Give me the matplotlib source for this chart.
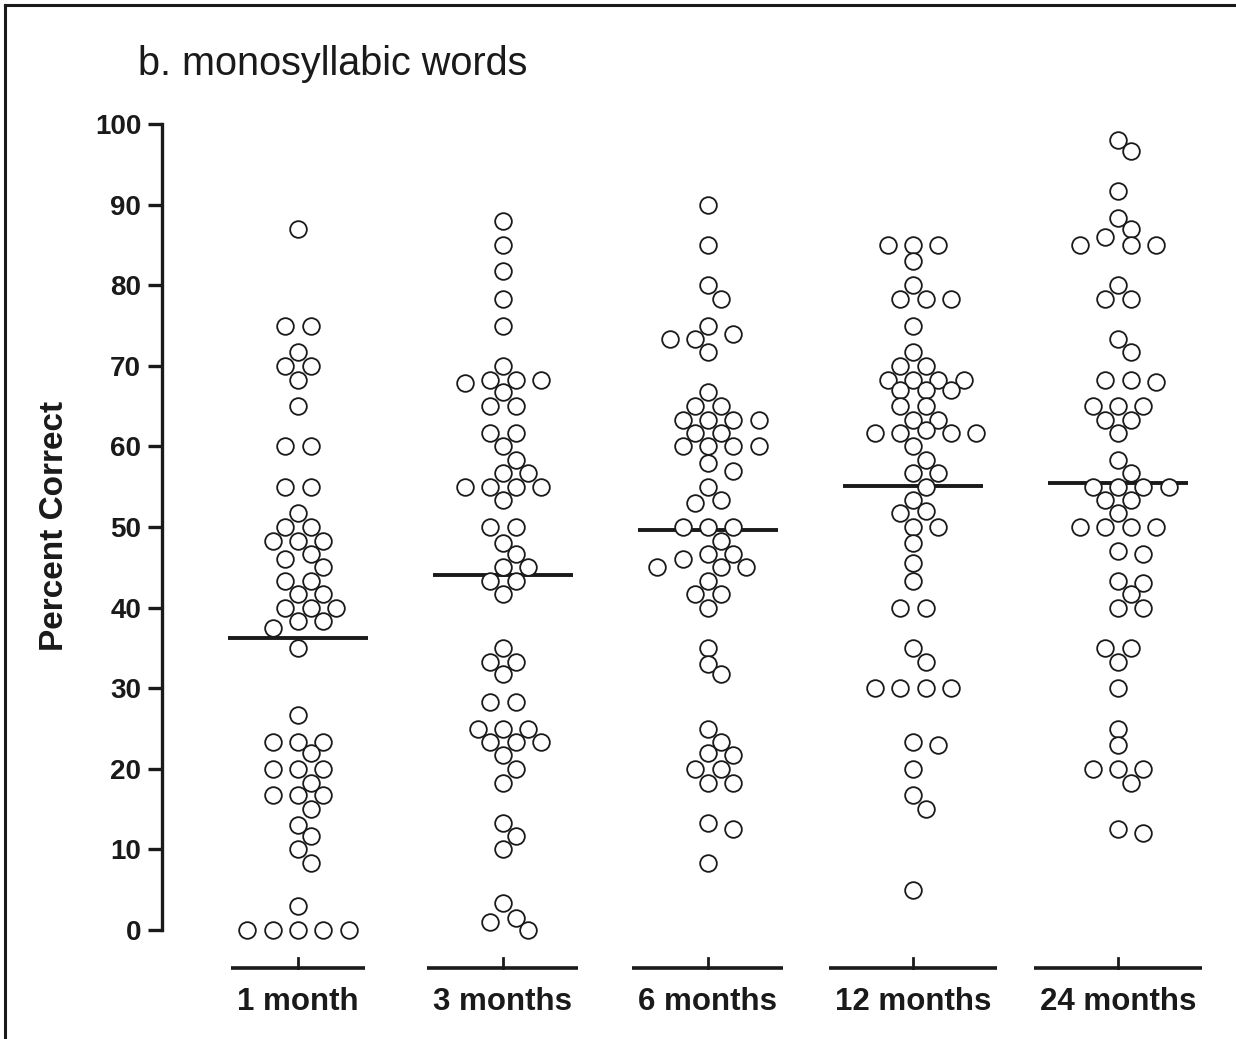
import matplotlib
matplotlib.use("Agg")
import matplotlib.pyplot as plt
from matplotlib.lines import Line2D
import numpy as np

groups = ["1 month", "3 months", "6 months", "12 months", "24 months"]

month_1 = [87, 75, 75, 71.7, 70, 70, 68.3, 65, 60, 60, 55, 55, 51.7, 50, 50,
           48.3, 48.3, 48.3, 46.7, 46, 45, 43.3, 43.3, 41.7, 41.7, 40, 40, 40,
           38.3, 38.3, 37.5, 35, 26.7, 23.3, 23.3, 23.3, 22, 20, 20, 20, 18.3,
           16.7, 16.7, 16.7, 15, 13, 11.7, 10, 8.3, 3, 0, 0, 0, 0, 0]
month_3 = [88, 85, 81.7, 78.3, 75, 70, 68.3, 68.3, 68.3, 67.9, 66.7, 65, 65,
           61.7, 61.7, 60, 58.3, 56.7, 56.7, 55, 55, 55, 55, 53.3, 50, 50, 48,
           46.7, 45, 45, 43.3, 43.3, 41.7, 35, 33.3, 33.3, 31.7, 28.3, 28.3, 25,
           25, 25, 23.3, 23.3, 23.3, 21.7, 20, 18.3, 13.3, 11.7, 10, 3.3, 1.5,
           1, 0]
month_6 = [90, 85, 80, 78.3, 75, 74, 73.3, 73.3, 71.7, 66.7, 65, 65, 63.3,
           63.3, 63.3, 63.3, 61.7, 61.7, 60, 60, 60, 60, 58, 57, 55, 53.3, 53,
           50, 50, 50, 48.3, 46.7, 46.7, 46, 45, 45, 45, 43.3, 41.7, 41.7, 40,
           35, 33, 31.7, 25, 23.3, 22, 21.7, 20, 20, 18.3, 18.3, 13.3, 12.5, 8.3]
month_12 = [85, 85, 85, 83, 80, 78.3, 78.3, 78.3, 75, 71.7, 70, 70, 68.3, 68.3,
            68.3, 68.3, 67, 67, 67, 65, 65, 63.3, 63.3, 62, 61.7, 61.7, 61.7,
            61.7, 60, 58.3, 56.7, 56.7, 55, 53.3, 52, 51.7, 50, 50, 48, 45.5,
            43.3, 40, 40, 35, 33.3, 30, 30, 30, 30, 23.3, 23, 20, 16.7, 15, 5]
month_24 = [98, 96.7, 91.7, 88.3, 87, 86, 85, 85, 85, 80, 78.3, 78.3, 73.3,
            71.7, 68.3, 68.3, 68, 65, 65, 65, 63.3, 63.3, 61.7, 58.3, 56.7, 55,
            55, 55, 55, 53.3, 53.3, 51.7, 50, 50, 50, 50, 47, 46.7, 43.3, 43,
            41.7, 40, 40, 35, 35, 33.3, 30, 25, 23, 20, 20, 20, 18.3, 12.5, 12]

series = [month_1, month_3, month_6, month_12, month_24]
yticks = list(range(0, 101, 10))

plt.rcParams["font.family"] = ["Liberation Sans", "DejaVu Sans"]

W, H = 1236, 1039
fig = plt.figure(figsize=(W / 100, H / 100), dpi=100)
ax = fig.add_axes([162 / W, 1 - 930 / H, 1 - 162 / W, (930 - 124) / H])
ax.set_ylim(0, 100)
ax.set_xlim(-0.663, 4.576)

# pixels per data unit
px_y = ax.bbox.height / 100
px_x = ax.bbox.width / (4.576 + 0.663)


def swarm(values, diam=15.5, step=12.7):
    """Column-scatter layout on a half-column grid.  Rows of equal values are
    spread symmetrically when they fit near the centre, otherwise each point
    takes the nearest free grid slot."""
    vals = sorted(values, reverse=True)
    rows = []
    for v in vals:
        if rows and abs(rows[-1][0] - v) < 1e-9:
            rows[-1].append(v)
        else:
            rows.append([v])
    placed = []

    def free(x, y):
        return all(np.hypot(x - px, y - py) >= diam for px, py in placed)

    slots = [0] + [s * k for k in range(1, 40) for s in (1, -1)]
    for row in rows:
        n = len(row)
        y = row[0] * px_y
        base = [(i - (n - 1) / 2) * 2 * step for i in range(n)]
        done = False
        for c in (0, 1, -1):
            xs = [c * step + b for b in base]
            if all(free(x, y) for x in xs):
                placed.extend((x, y) for x in xs)
                done = True
                break
        if done:
            continue
        for _ in range(n):
            for k in slots:
                if free(k * step, y):
                    placed.append((k * step, y))
                    break
    offs = np.array([p[0] for p in placed]) / px_x
    ys = np.array([p[1] for p in placed]) / px_y
    return offs, ys


for i, vals in enumerate(series):
    offs, ys = swarm(vals)
    ax.scatter(i + offs, ys, s=12 ** 2, facecolor="white", edgecolor="#1a1a1a",
               linewidth=1.3, zorder=3, clip_on=False)
    m = np.mean(vals)
    ax.plot([i - 0.34, i + 0.34], [m, m], color="#1a1a1a", lw=2.8,
            solid_capstyle="butt", zorder=2)

for side in ("top", "right", "bottom"):
    ax.spines[side].set_visible(False)
ax.spines["left"].set_linewidth(2.4)
ax.spines["left"].set_color("#1a1a1a")
ax.set_xticks([])
ax.set_yticks(yticks)
ax.tick_params(axis="y", length=10, width=2.4, color="#1a1a1a", pad=5,
               labelsize=20)
for lab in ax.get_yticklabels():
    lab.set_fontweight("bold")
    lab.set_color("#1a1a1a")

# group labels with a short axis segment under each column
seg_y = -38 / px_y
lab_y = -72 / px_y
fig.canvas.draw()
renderer = fig.canvas.get_renderer()
for i, name in enumerate(groups):
    t = ax.text(i, lab_y, name, ha="center", va="center", fontsize=22.5,
                fontweight="bold", color="#1a1a1a", clip_on=False)
    half = (t.get_window_extent(renderer).width / 2 + 6) / px_x
    ax.plot([i - half, i + half], [seg_y, seg_y], color="#1a1a1a", lw=2.6,
            solid_capstyle="butt", clip_on=False)
    ax.plot([i, i], [seg_y, seg_y + 10 / px_y], color="#1a1a1a", lw=2.0,
            clip_on=False)

fig.text(55 / W, 1 - 526 / H, "Percent Correct", rotation=90, ha="center",
         va="center", fontsize=24, fontweight="bold", color="#1a1a1a")
fig.text(138 / W, 1 - 75 / H, "b. monosyllabic words", ha="left",
         va="baseline", fontsize=28.5, color="#1a1a1a")

# panel frame
fig.add_artist(Line2D([5 / W, 5 / W], [0, 1 - 5 / H], transform=fig.transFigure,
                      color="#1a1a1a", lw=2.2))
fig.add_artist(Line2D([5 / W, 1], [1 - 5 / H, 1 - 5 / H],
                      transform=fig.transFigure, color="#1a1a1a", lw=2.2))

fig.savefig("out.png", dpi=100)
